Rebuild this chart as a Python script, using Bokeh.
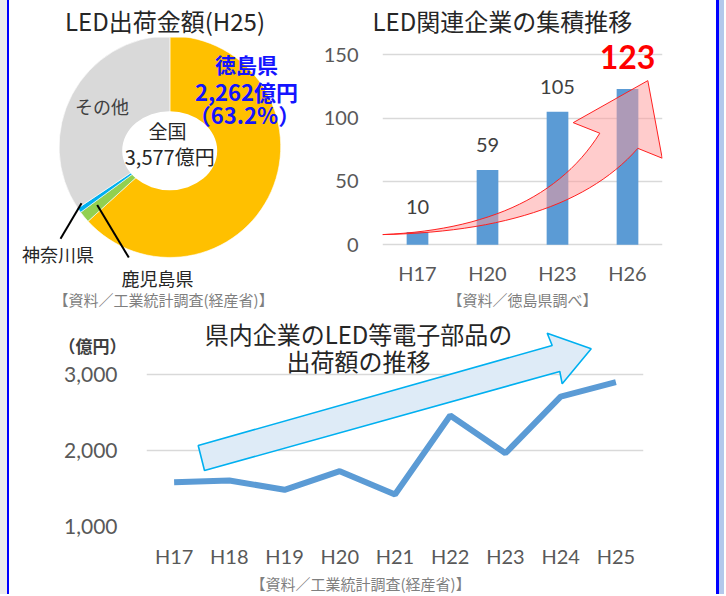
import numpy as np
from bokeh.plotting import figure
from bokeh.layouts import column, row
from bokeh.models import (Range1d, FactorRange, Label, FixedTicker, NumeralTickFormatter,
                          ColumnDataSource, Title, LinearAxis)
from bokeh.core.properties import value
from bokeh.embed import file_html
from bokeh.resources import INLINE

# ---------------- data ----------------
pie_labels = ["徳島県", "鹿児島県", "神奈川県", "その他"]
pie_values = [2262, 60, 25, 1230]          # 億円
pie_colors = ["#FFC000", "#92D050", "#00B0F0", "#D9D9D9"]
pie_total = 3577

bar_years = ["H17", "H20", "H23", "H26"]
bar_counts = [10, 59, 105, 123]
bar_ticks = [0, 50, 100, 150]

line_years = ["H17", "H18", "H19", "H20", "H21", "H22", "H23", "H24", "H25"]
line_values = [1583, 1605, 1483, 1728, 1421, 2460, 1964, 2710, 2899]
line_ticks = [1000, 2000, 3000]
unit_tick = [3380]

JP = "Noto Sans CJK JP"
NUM = "Lato"

TOP_H = 312        # height of top row
FRAME_TOP = 37     # frame top shared by the two top figures (title panel above)
FRAME_BOT = 266    # frame bottom shared by the two top figures
BOT_B = TOP_H - FRAME_BOT


def base_fig(**kw):
    p = figure(output_backend="svg", toolbar_location=None, **kw)
    p.outline_line_color = None
    p.background_fill_color = "white"
    p.border_fill_color = "white"
    return p


def lab(p, x, y, text, size, color="#262626", font=JP, style="normal", align="center"):
    p.add_layout(Label(x=x, y=y, text=text, text_font=font, text_font_size=size,
                       text_color=color, text_font_style=style,
                       text_align=align, text_baseline="middle"))


def title(p, text, size, place, offset, color="#262626", standoff=0, align="left"):
    p.add_layout(Title(text=text, text_font=JP, text_font_size=size, text_font_style="normal",
                       text_color=color, align=align, offset=offset, standoff=standoff), place)


# ---------------- donut (left top) ----------------
X0 = 9
W1 = 320 - X0
p1 = base_fig(width=W1, height=TOP_H, x_range=Range1d(0, W1), y_range=Range1d(0, FRAME_BOT - FRAME_TOP),
              x_axis_location=None, y_axis_location=None,
              min_border_left=0, min_border_right=0, min_border_top=FRAME_TOP, min_border_bottom=BOT_B)
p1.grid.visible = False


def d1(rx, ry):
    return rx - X0, FRAME_BOT - ry


cx, cy = d1(169.4, 147.6)
fr = np.array(pie_values, dtype=float) / pie_total
cum = np.concatenate([[0.0], np.cumsum(fr)])
src1 = ColumnDataSource(dict(start=np.pi / 2 - 2 * np.pi * cum[:-1],
                             end=np.pi / 2 - 2 * np.pi * cum[1:],
                             color=pie_colors, name=pie_labels))
p1.wedge(x=cx, y=cy, radius=110.8, start_angle="start", end_angle="end", direction="clock",
         fill_color="color", line_color="white", line_width=0.6, source=src1)
hx, hy = d1(169.2, 151.7)
p1.ellipse(x=hx, y=hy, width=95, height=80, fill_color="white", line_color=None)

# leader lines
a0, b0 = d1(81, 205)
a1, b1 = d1(60, 241)
c0, e0 = d1(96.7, 206.7)
c1, e1 = d1(128.3, 260)
p1.segment(x0=[a0, c0], y0=[b0, e0], x1=[a1, c1], y1=[b1, e1],
           line_color="black", line_width=2)

title(p1, "LED出荷金額(H25)", "24px", "above", 4.5, align="center")
lab(p1, *d1(246, 63.5), "徳島県", "21px", color="#1414FF", style="bold")
lab(p1, *d1(246, 91), "2,262億円", "22px", color="#1414FF", style="bold")
lab(p1, *d1(244, 115), "（63.2%）", "22px", color="#1414FF", style="bold")
lab(p1, *d1(101.5, 106.7), "その他", "18px", color="#404040")
lab(p1, *d1(167, 131.7), "全国", "19px")
lab(p1, *d1(169.2, 157.5), "3,577億円", "20px")
lab(p1, *d1(57.5, 256), "神奈川県", "18px")
title(p1, "鹿児島県", "18px", "below", 112, standoff=-2)
title(p1, "【資料／工業統計調査(経産省)】", "15px", "below", 44, color="#7F7F7F", standoff=-6)

# ---------------- bar chart (right top) ----------------
XR = 716
W2 = XR - 320
SC2 = 1.2827          # px per unit
ZERO2 = 247           # px of the 0 line
p2 = base_fig(width=W2, height=TOP_H, x_range=FactorRange(*bar_years),
              y_range=Range1d(-(FRAME_BOT - ZERO2) / SC2, (ZERO2 - FRAME_TOP) / SC2),
              min_border_left=382 - 320, min_border_right=XR - 662, min_border_top=FRAME_TOP,
              min_border_bottom=BOT_B)


def d2(rx, ry):
    return (rx - 382) / 70.0, (ZERO2 - ry) / SC2


p2.xgrid.visible = False
p2.ygrid.grid_line_color = "#D9D9D9"
p2.ygrid.grid_line_width = 1.6
p2.yaxis.ticker = FixedTicker(ticks=bar_ticks)
for ax in (p2.xaxis[0], p2.yaxis[0]):
    ax.axis_line_color = None
    ax.major_tick_line_color = None
    ax.minor_tick_line_color = None
    ax.major_tick_out = 0
    ax.major_label_text_font = NUM
    ax.major_label_text_font_size = "20px"
    ax.major_label_text_color = "#595959"
p2.yaxis.major_label_standoff = 24
p2.xaxis.major_label_standoff = -3
p2.xaxis.axis_label = "【資料／徳島県調べ】"
p2.xaxis.axis_label_text_font = JP
p2.xaxis.axis_label_text_font_size = "15px"
p2.xaxis.axis_label_text_font_style = "normal"
p2.xaxis.axis_label_text_color = "#7F7F7F"
p2.xaxis.axis_label_standoff = 1

title(p2, "LED関連企業の集積推移", "24px", "above", -10)

p2.vbar(x=bar_years, top=bar_counts, bottom=0, width=0.31, fill_color="#5B9BD5", line_color=None)

# labels above bars
src_lbl = ColumnDataSource(dict(x=bar_years[:3], y=[v + 25.5 / SC2 for v in bar_counts[:3]],
                                t=[str(v) for v in bar_counts[:3]]))
p2.text(x="x", y="y", text="t", source=src_lbl, text_font=value(NUM), text_font_size="20px",
        text_color="#404040", text_align="center", text_baseline="middle")
src_big = ColumnDataSource(dict(x=bar_years[3:], y=[v + 32 / SC2 for v in bar_counts[3:]],
                                t=[str(v) for v in bar_counts[3:]]))
p2.text(x="x", y="y", text="t", source=src_big, text_font=value(NUM), text_font_size="32px",
        text_font_style="bold", text_color="#FF0000", text_align="center", text_baseline="middle")


# red curved arrow (decoration)
def bez(p0, c, p1_, n=30):
    t = np.linspace(0, 1, n)
    x = (1 - t) ** 2 * p0[0] + 2 * (1 - t) * t * c[0] + t ** 2 * p1_[0]
    y = (1 - t) ** 2 * p0[1] + 2 * (1 - t) * t * c[1] + t ** 2 * p1_[1]
    return list(x), list(y)


ux, uy = bez((382, 236.7), (540, 230), (599.3, 134))
lx, ly = bez((637.3, 149.3), (565, 233), (382, 236.7))
arx = ux + [572.7, 647.3, 661.7] + lx
ary = uy + [123.3, 80.7, 159.3] + ly
pts = [d2(a, b) for a, b in zip(arx, ary)]
p2.patch(x=[q[0] for q in pts], y=[q[1] for q in pts], fill_color="#FF9999", fill_alpha=0.5,
         line_color="#FF2020", line_width=1)

# ---------------- line chart (bottom) ----------------
Y3 = TOP_H
H3 = 594 - Y3
W3 = XR - X0
SC3 = 0.076
ZERO3 = 526
FTOP3 = 318
p3 = base_fig(width=W3, height=H3, x_range=FactorRange(*line_years),
              y_range=Range1d(1000, 1000 + (ZERO3 - FTOP3) / SC3),
              min_border_left=146 - X0, min_border_right=XR - 643, min_border_top=FTOP3 - Y3,
              min_border_bottom=Y3 + H3 - ZERO3)
CW3 = 497.0 / 9


def d3(rx, ry):
    return (rx - 146) / CW3, 1000 + (ZERO3 - ry) / SC3


p3.xgrid.visible = False
p3.ygrid.grid_line_color = "#D9D9D9"
p3.ygrid.grid_line_width = 1.6
p3.yaxis.ticker = FixedTicker(ticks=line_ticks)
p3.yaxis.formatter = NumeralTickFormatter(format="0,0")
for ax in (p3.xaxis[0], p3.yaxis[0]):
    ax.axis_line_color = None
    ax.major_tick_line_color = None
    ax.minor_tick_line_color = None
    ax.major_tick_out = 0
    ax.major_label_text_font = NUM
    ax.major_label_text_color = "#595959"
p3.yaxis.major_label_text_font_size = "21px"
p3.xaxis.major_label_text_font_size = "20px"
p3.yaxis.major_label_standoff = 29
p3.xaxis.major_label_standoff = 17

# unit label "（億円）" as a second left axis
uax = LinearAxis(ticker=FixedTicker(ticks=unit_tick), major_label_overrides={unit_tick[0]: "（億円）"},
                 axis_line_color=None, major_tick_line_color=None, minor_tick_line_color=None,
                 major_tick_out=0, major_label_standoff=-65,
                 major_label_text_font=JP, major_label_text_font_size="17px",
                 major_label_text_font_style="bold", major_label_text_color="#404040")
p3.add_layout(uax, "left")

title(p3, "【資料／工業統計調査(経産省)】", "15px", "below", 104, color="#7F7F7F", standoff=1)

# blue straight arrow (decoration)
bax = [197.7, 551.7, 546.7, 590.7, 561.7, 559.3, 204.0]
bay = [445.0, 345.0, 332.7, 348.3, 383.3, 371.0, 470.0]
bpts = [d3(a, b) for a, b in zip(bax, bay)]
p3.patch(x=[q[0] for q in bpts], y=[q[1] for q in bpts], fill_color="#DEEBF7",
         line_color="#00B0F0", line_width=1.6)

p3.line(x=line_years, y=line_values, line_color="#5B9BD5", line_width=6)

lab(p3, *d3(358, 333), "県内企業のLED等電子部品の", "24px")
lab(p3, *d3(358, 360), "出荷額の推移", "24px")

layout = column(row(p1, p2), p3,
                styles={"border-left": "2px solid #0000FF", "border-right": "3px solid #0000FF",
                        "margin-left": "7px",
                        "box-shadow": "5px 0 0 0 #B4C8EC, -7px 0 0 0 #EDEDED"})

open("out.html", "w").write(file_html(layout, INLINE))
